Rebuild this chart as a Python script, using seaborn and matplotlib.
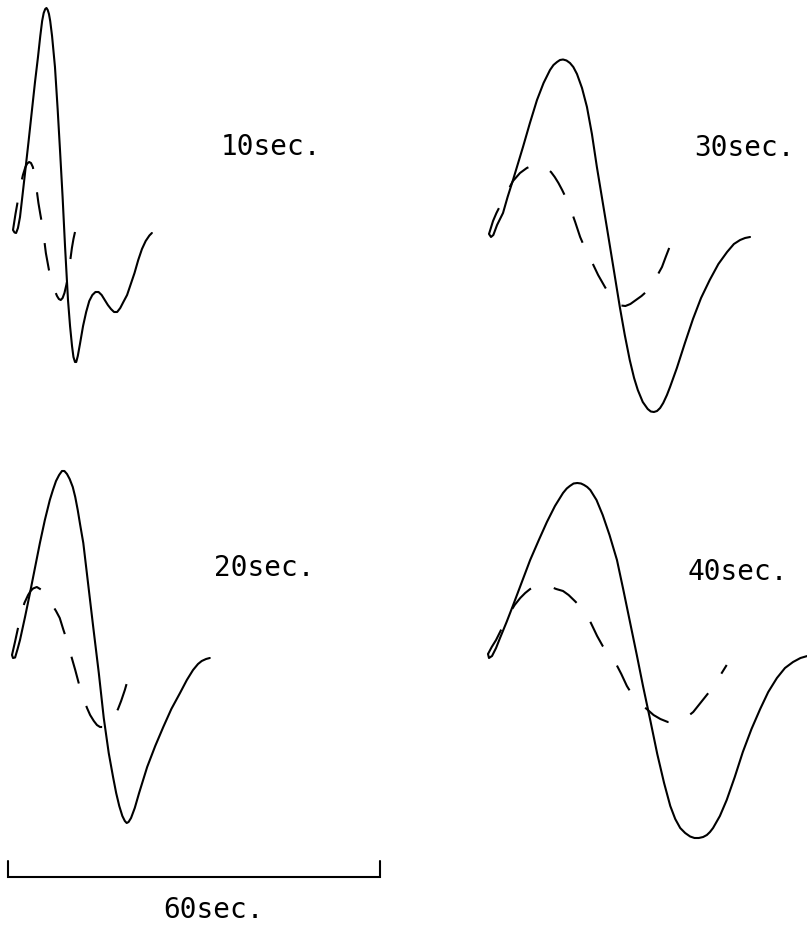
import matplotlib
matplotlib.use("Agg")
import matplotlib.pyplot as plt
import seaborn as sns

sns.set_theme(style="white")
plt.rcParams["lines.scale_dashes"] = False
plt.rcParams["font.family"] = ["DejaVu Sans Mono", "DejaVu Sans"]

# ---- pulse responses: time (sec) and amplitude (arbitrary units) ----
# 10 sec pulse
t10_solid = [0, 0.25, 0.5, 0.8, 1.13, 1.5, 1.94, 2.5, 3.06, 3.55, 4.03, 4.4, 4.7, 4.95,
             5.2, 5.4, 5.6, 5.8, 6.0, 6.3, 6.77, 7.2, 7.58, 8.0, 8.39, 8.87, 9.2, 9.52,
             9.75, 10.0, 10.2, 10.45, 10.8, 11.3, 11.8, 12.3, 12.8, 13.3, 13.8, 14.3,
             14.8, 15.3, 15.8, 16.3, 16.8, 17.3, 17.8, 18.4, 19.0, 19.6, 20.2, 20.8,
             21.4, 22.0, 22.4]
a10_solid = [0.2, -0.05, -0.1, 0.4, 1.5, 3.5, 5.9, 9.0, 12.2, 15.0, 17.5, 19.6, 21.1, 21.9,
             22.3, 22.4, 22.2, 21.8, 21.1, 19.6, 16.5, 12.3, 8.2, 3.5, -1.4, -6.8, -9.4,
             -11.4, -12.5, -13.0, -13.0, -12.4, -11.2, -9.4, -8.0, -6.9, -6.3, -6.0, -6.0,
             -6.3, -6.8, -7.3, -7.7, -8.0, -8.0, -7.6, -7.0, -6.3, -5.2, -4.1, -2.8, -1.7,
             -0.9, -0.35, -0.1]
t10_dashed = [0, 0.4, 0.8, 1.2, 1.6, 2.0, 2.3, 2.6, 2.9, 3.2, 3.5, 3.8, 4.1, 4.4, 4.8, 5.3,
              5.8, 6.3, 6.7, 7.1, 7.4, 7.7, 8.0, 8.3, 8.6, 8.9, 9.2, 9.5, 9.75, 10.0]
a10_dashed = [0.2, 1.8, 3.2, 4.6, 5.7, 6.5, 6.85, 7.0, 6.9, 6.5, 5.6, 4.3, 2.9, 1.8, 0.4,
              -2.1, -3.8, -5.0, -5.8, -6.4, -6.7, -6.8, -6.6, -6.1, -5.3, -4.3, -3.0, -1.6,
              -0.7, 0.0]

# 20 sec pulse
t20_solid = [0, 0.16, 0.5, 0.9, 1.29, 2.1, 2.9, 3.7, 4.5, 5.3, 6.1, 6.6, 7.1, 7.6, 8.06,
             8.45, 8.87, 9.3, 9.8, 10.2, 10.6, 11.0, 11.5, 12.3, 13.1, 14.0, 14.8, 15.6,
             16.3, 16.8, 17.3, 17.8, 18.2, 18.5, 18.8, 19.2, 19.8, 20.5, 21.2, 21.8, 23.1,
             24.4, 25.7, 27.1, 28.2, 29.2, 30.0, 30.6, 31.3, 31.9]
a20_solid = [0.2, -0.1, -0.05, 0.8, 1.7, 4.0, 6.4, 8.9, 11.4, 13.7, 15.7, 16.7, 17.6, 18.2,
             18.6, 18.6, 18.3, 17.8, 17.0, 16.0, 14.7, 13.2, 11.4, 7.2, 3.0, -1.6, -6.1,
             -9.6, -12.0, -13.6, -14.9, -15.9, -16.4, -16.6, -16.5, -16.1, -15.1, -13.6,
             -12.2, -11.0, -8.9, -7.0, -5.2, -3.6, -2.3, -1.3, -0.7, -0.4, -0.2, -0.1]
t20_dashed = [0, 0.48, 0.97, 1.5, 2.0, 2.6, 3.0, 3.4, 4.0, 4.8, 5.6, 6.4, 7.1, 7.7, 8.3,
              9.0, 9.6, 10.2, 10.8, 11.5, 12.1, 12.6, 13.2, 13.7, 14.2, 14.7, 15.2, 15.8,
              16.6, 17.1, 17.6, 18.2, 18.8, 19.5]
a20_dashed = [0.2, 1.5, 2.9, 4.3, 5.4, 6.2, 6.6, 6.85, 7.0, 6.7, 6.1, 5.3, 4.6, 3.9, 2.7,
              1.4, 0.0, -1.3, -2.7, -4.1, -5.1, -5.8, -6.4, -6.8, -7.0, -7.0, -6.9, -6.5,
              -5.8, -5.2, -4.4, -3.3, -2.0, -0.5]

# 30 sec pulse
t30_solid = [0, 0.32, 0.7, 1.3, 2.26, 3.0, 3.87, 4.7, 5.48, 6.6, 7.74, 8.8, 9.84, 10.4,
             10.97, 11.45, 11.94, 12.5, 13.06, 13.6, 14.19, 15.0, 15.8, 16.6, 17.4, 18.2,
             19.0, 20.0, 21.1, 21.9, 22.7, 23.4, 24.0, 24.8, 25.6, 26.1, 26.6, 27.1, 27.6,
             28.1, 28.7, 29.2, 30.3, 31.6, 32.9, 34.2, 35.6, 37.0, 38.4, 39.5, 40.5, 41.3,
             42.1]
a30_solid = [0.2, -0.1, 0.1, 1.1, 2.3, 3.9, 5.6, 7.3, 8.9, 11.3, 13.6, 15.3, 16.6, 17.1,
             17.4, 17.6, 17.65, 17.55, 17.3, 16.9, 16.2, 14.8, 12.9, 10.2, 6.9, 3.9, 0.9,
             -2.9, -7.1, -9.9, -12.4, -14.2, -15.4, -16.6, -17.3, -17.55, -17.6, -17.5,
             -17.2, -16.7, -15.9, -15.1, -13.2, -10.7, -8.3, -6.2, -4.4, -2.8, -1.6, -0.8,
             -0.4, -0.2, -0.1]
t30_dashed = [0, 0.65, 1.2, 1.77, 2.9, 3.87, 5.0, 6.1, 7.0, 7.8, 8.5, 9.2, 10.0, 10.6,
              11.2, 11.8, 12.5, 13.1, 13.9, 14.7, 15.6, 16.6, 17.6, 18.7, 19.4, 20.0, 20.6,
              21.3, 22.0, 22.8, 23.7, 24.6, 25.5, 26.3, 27.1, 27.9, 28.5, 29.0, 29.5]
a30_dashed = [0.2, 1.5, 2.3, 3.0, 4.4, 5.5, 6.3, 6.8, 7.05, 7.1, 7.0, 6.8, 6.4, 5.9, 5.3,
              4.6, 3.7, 2.8, 1.4, -0.1, -1.4, -2.6, -3.9, -5.1, -5.8, -6.3, -6.7, -6.95,
              -7.0, -6.8, -6.4, -6.0, -5.5, -4.8, -4.0, -3.1, -2.1, -1.3, -0.4]

# 40 sec pulse
t40_solid = [0, 0.16, 0.65, 1.3, 1.94, 3.0, 4.0, 5.4, 6.8, 8.2, 9.5, 10.8, 12.1, 12.7,
             13.2, 13.8, 14.4, 15.0, 15.5, 16.0, 16.5, 17.5, 18.5, 19.6, 20.8, 21.8, 22.9,
             24.0, 25.0, 26.2, 27.3, 28.4, 29.4, 30.2, 31.0, 31.8, 32.6, 33.3, 34.0, 34.7,
             35.3, 35.8, 36.3, 37.4, 38.5, 39.8, 41.1, 42.5, 43.9, 45.2, 46.6, 47.9, 49.2,
             50.4, 51.5]
a40_solid = [0.3, -0.1, 0.1, 0.9, 1.9, 3.5, 5.1, 7.4, 9.7, 11.7, 13.5, 15.1, 16.4, 16.85,
             17.1, 17.35, 17.4, 17.35, 17.2, 17.0, 16.7, 15.7, 14.2, 12.2, 9.7, 6.8, 3.5,
             0.2, -2.9, -6.4, -9.7, -12.6, -14.9, -16.2, -17.1, -17.6, -17.95, -18.1, -18.1,
             -18.0, -17.8, -17.5, -17.1, -15.9, -14.3, -12.0, -9.5, -7.2, -5.2, -3.5, -2.1,
             -1.1, -0.5, -0.1, 0.1]
t40_dashed = [0, 0.6, 1.3, 2.26, 3.5, 4.3, 5.2, 6.0, 6.8, 7.5, 8.1, 8.9, 9.7, 10.4, 11.0,
              12.1, 13.0, 14.0, 14.8, 15.6, 16.6, 17.6, 18.5, 19.5, 20.5, 21.5, 22.4, 23.3,
              24.4, 25.6, 26.7, 27.8, 29.0, 30.1, 31.1, 32.1, 33.1, 34.0, 34.9, 35.8, 36.7,
              37.6, 38.5]
a40_dashed = [0.3, 1.0, 1.7, 2.9, 4.4, 5.2, 5.9, 6.4, 6.8, 7.0, 7.1, 7.15, 7.1, 6.95, 6.8,
              6.6, 6.2, 5.6, 5.1, 4.5, 3.4, 2.1, 1.1, 0.3, -0.5, -1.7, -2.9, -3.8, -4.6,
              -5.2, -5.8, -6.2, -6.5, -6.5, -6.3, -6.0, -5.5, -4.8, -4.1, -3.4, -2.5, -1.7,
              -0.8]

pulse_labels = ["10sec.", "20sec.", "30sec.", "40sec."]
scale_len = 60          # sec
scale_label = "60sec."

# ---- layout (figure pixels; 6.2 px per second, 10 px per amplitude unit) ----
W, H = 807, 925
PX_PER_SEC = 6.2
PX_PER_UNIT = 10.0

fig = plt.figure(figsize=(W / 100, H / 100), dpi=100)
ax = fig.add_axes([0, 0, 1, 1])
ax.set_xlim(0, W / PX_PER_SEC)
ax.set_ylim(0, H / PX_PER_UNIT)
ax.set_axis_off()


def origin(px, py):
    return px / PX_PER_SEC, (H - py) / PX_PER_UNIT


panels = [
    (t10_solid, a10_solid, t10_dashed, a10_dashed, origin(13, 232), origin(221, 147)),
    (t20_solid, a20_solid, t20_dashed, a20_dashed, origin(12, 657), origin(214, 568)),
    (t30_solid, a30_solid, t30_dashed, a30_dashed, origin(489, 236), origin(694, 148)),
    (t40_solid, a40_solid, t40_dashed, a40_dashed, origin(488, 657), origin(688, 572)),
]

LW = 1.5
FS = 20
for (ts, ys, td, yd, (ox, oy), (lx, ly)), label in zip(panels, pulse_labels):
    sns.lineplot(x=[t + ox for t in ts], y=[a + oy for a in ys], sort=False,
                 estimator=None, color="black", lw=LW, ax=ax)
    sns.lineplot(x=[t + ox for t in td], y=[a + oy for a in yd], sort=False,
                 estimator=None, color="black", lw=LW, linestyle=(0, (20, 17)), ax=ax)
    ax.text(lx, ly, label, fontsize=FS, ha="left", va="center", color="black")

# time scale bar
bx, by = origin(8, 877)
tick = 1.6
ax.plot([bx, bx, bx + scale_len, bx + scale_len], [by + tick, by, by, by + tick],
        color="black", lw=LW, solid_joinstyle="miter")
tx, ty = origin(163, 910)
ax.text(tx, ty, scale_label, fontsize=FS, ha="left", va="center", color="black")

fig.savefig("out.png", dpi=100, facecolor="white")
